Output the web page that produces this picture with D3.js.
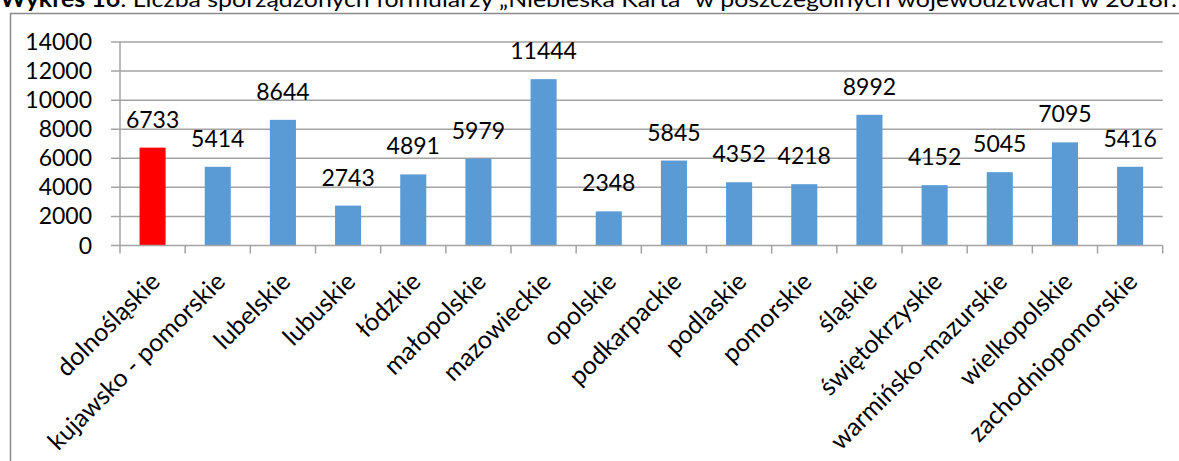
<!DOCTYPE html>
<html><head><meta charset="utf-8">
<script src="https://cdn.jsdelivr.net/npm/d3@7"></script>
<style>
html,body{margin:0;padding:0;background:#fff;overflow:hidden}
svg{display:block}
</style></head>
<body>
<script>
const categories = ["dolnośląskie","kujawsko - pomorskie","lubelskie","lubuskie","łódzkie","małopolskie","mazowieckie","opolskie","podkarpackie","podlaskie","pomorskie","śląskie","świętokrzyskie","warmińsko-mazurskie","wielkopolskie","zachodniopomorskie"];
const values = [6733,5414,8644,2743,4891,5979,11444,2348,5845,4352,4218,8992,4152,5045,7095,5416];
const yTicks = [0,2000,4000,6000,8000,10000,12000,14000];
const highlight = ["dolnośląskie"];
const titleBold = "Wykres 16";
const titleRest = ": Liczba sporządzonych formularzy „Niebieska Karta” w poszczególnych województwach w 2018r.";

const W = 1179, H = 461;
const font = "Lato, Calibri, Carlito, sans-serif";
const svg = d3.select("body").append("svg").attr("width", W).attr("height", H);

// title (cut off at top, as in the reference)
const t = svg.append("text").attr("x", 0).attr("y", 7)
  .attr("font-family", font).attr("font-size", 22).attr("fill", "#000")
  .attr("textLength", 1177).attr("lengthAdjust", "spacingAndGlyphs");
t.append("tspan").attr("font-weight", "bold").text(titleBold);
t.append("tspan").text(titleRest);

// frame
svg.append("path").attr("d", `M10.5,${H} V13.5 H${W}`)
  .attr("fill", "none").attr("stroke", "#8a8a8a").attr("stroke-width", 1.5);

const x0 = 120, x1 = 1162.7, yTop = 42, yBot = 245.5;
const x = d3.scaleBand().domain(categories).range([x0, x1]).paddingInner(0.6).paddingOuter(0.3);
const xb = d3.scaleBand().domain(categories).range([x0, x1]);
const y = d3.scaleLinear().domain([0, 14000]).range([yBot, yTop]);

const grid = "#a3a3a3";
svg.append("g").selectAll("line").data(yTicks.filter(d => d > 0)).join("line")
  .attr("x1", x0 - 9).attr("x2", x1).attr("y1", d => y(d)).attr("y2", d => y(d))
  .attr("stroke", grid).attr("stroke-width", 1.5);

svg.append("line").attr("x1", x0).attr("x2", x0).attr("y1", yTop).attr("y2", yBot)
  .attr("stroke", grid).attr("stroke-width", 1.5);

svg.append("g").selectAll("text").data(yTicks).join("text")
  .attr("x", 92).attr("y", d => y(d)).attr("dy", "0.35em")
  .attr("text-anchor", "end").attr("font-family", font).attr("font-size", 23)
  .attr("fill", "#000").text(d => d);

svg.append("g").selectAll("rect").data(categories).join("rect")
  .attr("x", d => x(d)).attr("width", x.bandwidth())
  .attr("y", (d, i) => y(values[i])).attr("height", (d, i) => yBot - y(values[i]))
  .attr("fill", d => highlight.includes(d) ? "#ff0000" : "#5b9bd5");

svg.append("line").attr("x1", x0 - 9).attr("x2", x1).attr("y1", yBot).attr("y2", yBot)
  .attr("stroke", grid).attr("stroke-width", 1.5);
const tickPos = categories.map(c => xb(c)).concat([x1]);
svg.append("g").selectAll("line").data(tickPos).join("line")
  .attr("x1", d => d).attr("x2", d => d).attr("y1", yBot).attr("y2", yBot + 8)
  .attr("stroke", grid).attr("stroke-width", 1.5);

svg.append("g").selectAll("text").data(categories).join("text")
  .attr("x", d => x(d) + x.bandwidth() / 2)
  .attr("y", (d, i) => y(values[i]) - 20)
  .attr("text-anchor", "middle").attr("font-family", font).attr("font-size", 23)
  .attr("fill", "#000").text((d, i) => values[i]);

svg.append("g").selectAll("text").data(categories).join("text")
  .attr("transform", d => `translate(${xb(d) + xb.bandwidth() / 2 + 2},276) rotate(-45)`)
  .attr("dominant-baseline", "central")
  .attr("text-anchor", "end").attr("font-family", font).attr("font-size", 25)
  .attr("fill", "#000").text(d => d);
</script>
</body></html>
